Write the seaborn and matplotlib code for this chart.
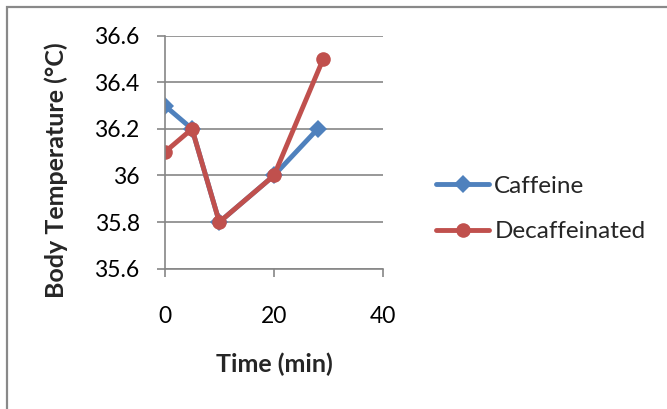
import matplotlib
matplotlib.use("Agg")
import matplotlib.pyplot as plt
import seaborn as sns
import pandas as pd
from matplotlib.patches import Rectangle

# Body temperature readings over time for the two drinks
caffeine_time = [0, 5, 10, 20, 28]
caffeine_temp = [36.3, 36.2, 35.8, 36.0, 36.2]
decaf_time = [0, 5, 10, 20, 29]
decaf_temp = [36.1, 36.2, 35.8, 36.0, 36.5]
series_names = ["Caffeine", "Decaffeinated"]
x_ticks = [0, 20, 40]
y_ticks = [35.6, 35.8, 36.0, 36.2, 36.4, 36.6]
y_tick_labels = ["35.6", "35.8", "36", "36.2", "36.4", "36.6"]

df = pd.concat([
    pd.DataFrame({"Time": caffeine_time, "Temp": caffeine_temp, "Drink": series_names[0]}),
    pd.DataFrame({"Time": decaf_time, "Temp": decaf_temp, "Drink": series_names[1]}),
], ignore_index=True)

sns.set_theme(style="white")
plt.rcParams["font.family"] = ["Lato", "DejaVu Sans"]

W, H = 667, 409
fig = plt.figure(figsize=(W / 100, H / 100), dpi=100)
left, right, top, bottom = 164.7, 383.3, 35.7, 268.7
ax = fig.add_axes([left / W, 1 - bottom / H, (right - left) / W, (bottom - top) / H])

grey = "#868686"
palette = {"Caffeine": "#4F81BD", "Decaffeinated": "#C0504D"}
sns.lineplot(data=df, x="Time", y="Temp", hue="Drink", style="Drink",
             markers={"Caffeine": "D", "Decaffeinated": "o"},
             dashes=False, palette=palette, linewidth=3.5,
             markersize=9, markeredgewidth=0, sort=False, ax=ax)
for line in ax.lines:
    if line.get_marker() == "D":
        line.set_markersize(9)
    else:
        line.set_markersize(10.5)

ax.set_xlim(0, 40)
ax.set_ylim(35.6, 36.6)
ax.set_xticks(x_ticks)
ax.set_yticks(y_ticks)
ax.set_yticklabels(y_tick_labels)
ax.yaxis.grid(True, color=grey, linewidth=1.2)
ax.set_axisbelow(True)
for s in ["top", "right"]:
    ax.spines[s].set_visible(False)
for s in ["left", "bottom"]:
    ax.spines[s].set_color(grey)
    ax.spines[s].set_linewidth(1.2)
ax.tick_params(axis="both", which="major", direction="out", length=6,
               width=1.2, color=grey, labelsize=16.5, labelcolor="black")
ax.tick_params(axis="x", pad=21, bottom=True)
ax.tick_params(axis="y", pad=12, left=True)
ax.set_xlabel("")
ax.set_ylabel("")

fig.text(274 / W, 1 - 364 / H, "Time (min)", ha="center", va="center",
         fontsize=18, fontweight="bold")
fig.text(56 / W, 1 - 170 / H, "Body Temperature (°C)", ha="center", va="center",
         rotation=90, fontsize=18, fontweight="bold")

handles, labels = ax.get_legend_handles_labels()
ax.legend(handles, labels, loc="center left",
          bbox_to_anchor=(436 / W, 1 - 209 / H), bbox_transform=fig.transFigure,
          frameon=False, fontsize=17.5, handlelength=2.2, handletextpad=0.2,
          labelspacing=1.0, borderaxespad=0, borderpad=0)

# chart area frame
fig.patches.append(Rectangle((6.5 / W, -0.05), 1.2, 1 - 6.5 / H + 0.05,
                             transform=fig.transFigure, fill=False,
                             edgecolor="#898989", linewidth=1.6))

fig.savefig("out.png", dpi=100)
